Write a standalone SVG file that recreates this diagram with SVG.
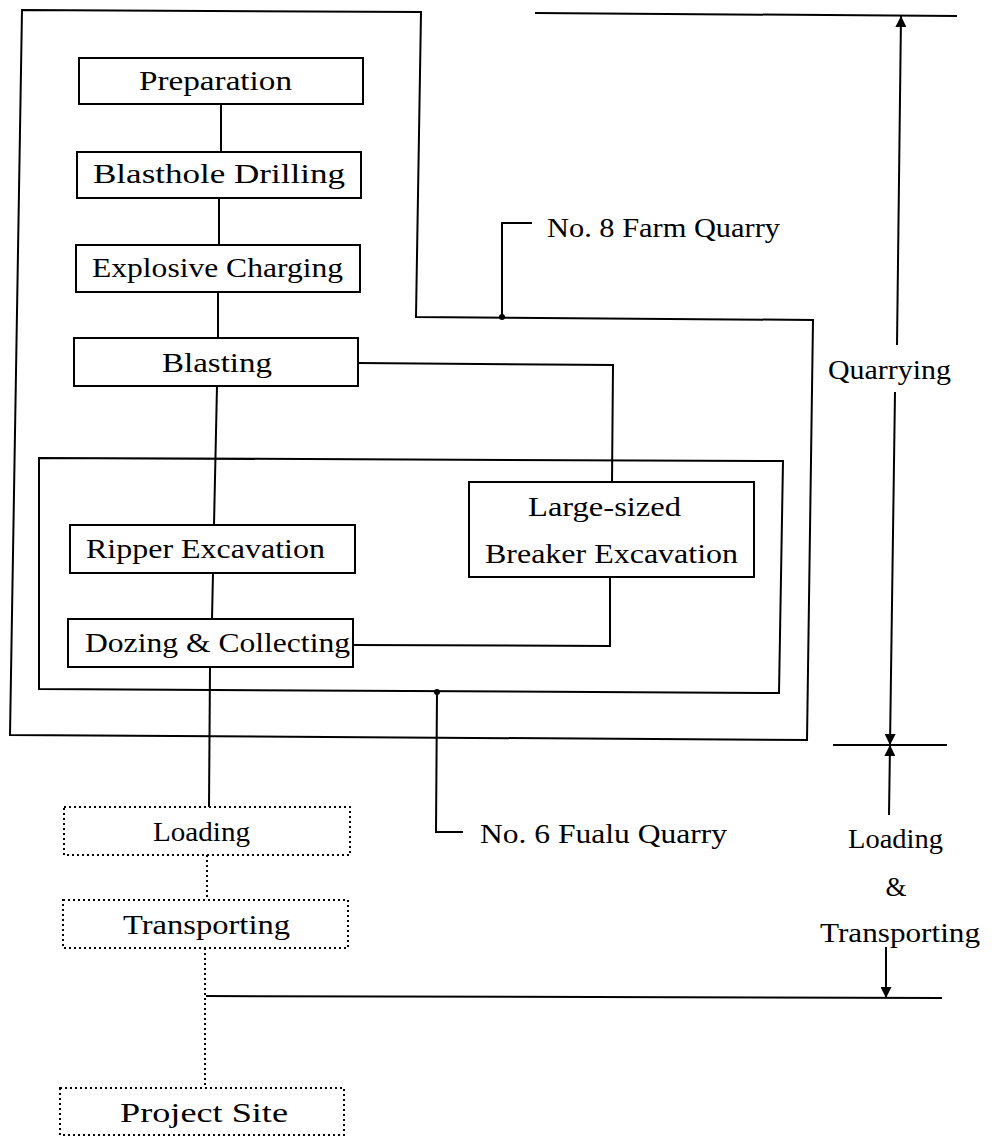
<svg xmlns="http://www.w3.org/2000/svg" width="995" height="1137" viewBox="0 0 995 1137">
<style>
.t{font-family:"Liberation Serif","Times New Roman",serif;font-size:27px;fill:#000}
.box{fill:none;stroke:#000;stroke-width:2}
.dot{fill:none;stroke:#000;stroke-width:2;stroke-dasharray:2 3}
.ln{fill:none;stroke:#000;stroke-width:2}
.dl{fill:none;stroke:#000;stroke-width:2;stroke-dasharray:2 3}
</style>
<defs>
<marker id="ah" viewBox="0 0 10 10" refX="10" refY="5" markerWidth="13" markerHeight="11" orient="auto-start-reverse" markerUnits="userSpaceOnUse">
<path d="M0,0 L10,5 L0,10 z" fill="#000"/>
</marker>
</defs>
<rect width="995" height="1137" fill="#fff"/>
<g id="farm-quarry">
<polygon class="box" points="22,10 421,12 416,317 813,320 807,740 10,735"/>
<circle cx="502" cy="317" r="3" fill="#000"/>
<polyline class="ln" points="502,317 502,223 532,223"/>
<text class="t" x="547" y="237" textLength="233" lengthAdjust="spacingAndGlyphs">No. 8 Farm Quarry</text>
</g>
<g id="fualu-quarry">
<polygon class="box" points="39,458 783,461 779,693 39,689"/>
<circle cx="437" cy="692" r="3" fill="#000"/>
<polyline class="ln" points="437,692 436,832 463,832"/>
<text class="t" x="480" y="843" textLength="247" lengthAdjust="spacingAndGlyphs">No. 6 Fualu Quarry</text>
</g>
<g id="connectors">
<line class="ln" x1="221" y1="104" x2="221" y2="152"/>
<line class="ln" x1="219" y1="198" x2="219" y2="245"/>
<line class="ln" x1="218" y1="292" x2="218" y2="338"/>
<line class="ln" x1="217" y1="386" x2="214" y2="525"/>
<line class="ln" x1="213" y1="573" x2="212" y2="619"/>
<line class="ln" x1="210" y1="668" x2="209" y2="807"/>
<polyline class="ln" points="358,363 613,365 612,482"/>
<polyline class="ln" points="353,645 610,646 610,577"/>
<line class="dl" x1="207" y1="855" x2="207" y2="900"/>
<line class="dl" x1="205" y1="948" x2="205" y2="1088"/>
<line class="ln" x1="206" y1="996" x2="942" y2="998"/>
</g>
<g id="preparation">
<rect class="box" x="79" y="58" width="284" height="46"/>
<text class="t" x="139" y="90" textLength="153" lengthAdjust="spacingAndGlyphs">Preparation</text>
</g>
<g id="blasthole-drilling">
<rect class="box" x="77" y="152" width="284" height="46"/>
<text class="t" x="93" y="183" textLength="252" lengthAdjust="spacingAndGlyphs">Blasthole Drilling</text>
</g>
<g id="explosive-charging">
<rect class="box" x="76" y="245" width="284" height="47"/>
<text class="t" x="92" y="277" textLength="251" lengthAdjust="spacingAndGlyphs">Explosive Charging</text>
</g>
<g id="blasting">
<rect class="box" x="74" y="338" width="284" height="48"/>
<text class="t" x="162" y="372" textLength="110" lengthAdjust="spacingAndGlyphs">Blasting</text>
</g>
<g id="ripper-excavation">
<rect class="box" x="70" y="525" width="285" height="48"/>
<text class="t" x="86" y="558" textLength="239" lengthAdjust="spacingAndGlyphs">Ripper Excavation</text>
</g>
<g id="dozing-collecting">
<rect class="box" x="68" y="619" width="285" height="48"/>
<text class="t" x="85" y="652" textLength="265" lengthAdjust="spacingAndGlyphs">Dozing &amp; Collecting</text>
</g>
<g id="breaker-excavation">
<rect class="box" x="469" y="482" width="285" height="95"/>
<text class="t" x="528" y="516" textLength="153" lengthAdjust="spacingAndGlyphs">Large-sized</text>
<text class="t" x="485" y="563" textLength="253" lengthAdjust="spacingAndGlyphs">Breaker Excavation</text>
</g>
<g id="loading">
<rect class="dot" x="64" y="807" width="286" height="48"/>
<text class="t" x="153" y="841" textLength="97" lengthAdjust="spacingAndGlyphs">Loading</text>
</g>
<g id="transporting">
<rect class="dot" x="63" y="900" width="285" height="48"/>
<text class="t" x="123" y="934" textLength="167" lengthAdjust="spacingAndGlyphs">Transporting</text>
</g>
<g id="project-site">
<rect class="dot" x="60" y="1088" width="284" height="47"/>
<text class="t" x="120" y="1122" textLength="168" lengthAdjust="spacingAndGlyphs">Project Site</text>
</g>
<g id="dimensions">
<line class="ln" x1="535" y1="13" x2="957" y2="16"/>
<line class="ln" x1="833" y1="745" x2="947" y2="745"/>
<line class="ln" x1="897" y1="345" x2="901" y2="16" marker-end="url(#ah)"/>
<line class="ln" x1="895" y1="392" x2="890" y2="745" marker-end="url(#ah)"/>
<text class="t" x="828" y="379" textLength="123" lengthAdjust="spacingAndGlyphs">Quarrying</text>
<line class="ln" x1="889" y1="815" x2="890" y2="745" marker-end="url(#ah)"/>
<text class="t" x="848" y="848" textLength="95" lengthAdjust="spacingAndGlyphs">Loading</text>
<text class="t" x="896" y="896" text-anchor="middle">&amp;</text>
<text class="t" x="820" y="942" textLength="160" lengthAdjust="spacingAndGlyphs">Transporting</text>
<line class="ln" x1="886" y1="947" x2="886" y2="998" marker-end="url(#ah)"/>
</g>
</svg>
